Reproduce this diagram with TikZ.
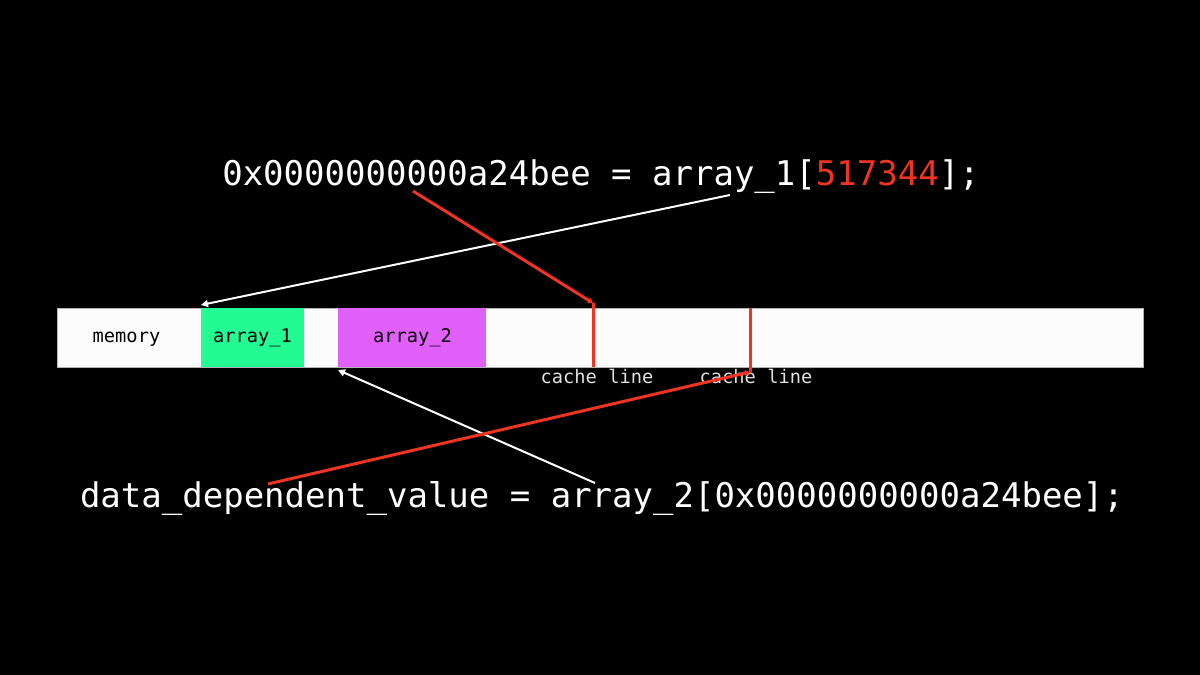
\documentclass[tikz,border=0pt]{standalone}
\usepackage{fontspec}
\setmonofont{DejaVu Sans Mono}
\usetikzlibrary{arrows.meta,positioning,calc}

\definecolor{arraygreen}{RGB}{34,250,146}
\definecolor{arraypink}{RGB}{226,96,250}
\definecolor{codered}{RGB}{240,52,34}
\definecolor{bargray}{RGB}{252,252,252}

\tikzset{
    code/.style={text=white, font=\ttfamily\fontsize{34}{40}\selectfont, inner sep=0pt, anchor=base},
    label/.style={font=\ttfamily\fontsize{18.7}{22}\selectfont, inner sep=0pt, anchor=base},
    block/.style={minimum height=59pt, inner sep=0pt, outer sep=0pt},
    wire/.style={white, line width=2pt, -{Triangle[length=7pt,width=7pt]}},
    redwire/.style={codered, line width=3pt, -{Triangle[length=5pt,width=6pt]}},
}

\begin{document}
\begin{tikzpicture}[x=1pt,y=-1pt]
    % black page
    \fill[black] (0,0) rectangle (1200,675);
    \useasboundingbox (0,0) rectangle (1200,675);

    % memory bar
    \node[block, draw=gray!60, line width=0.8pt, fill=bargray, minimum width=1086pt] (mem) at (600,337.5) {};
    \node[block, fill=arraygreen, minimum width=103pt] (arr1) at (252.5,337.5) {};
    \node[block, fill=arraypink, minimum width=148pt] (arr2) at (412,337.5) {};
    \node[label] (memtxt) at (126.5,342) {memory};
    \node[label] (arr1txt) at (252.5,342) {array\_1};
    \node[label] (arr2txt) at (412.5,342) {array\_2};

    % cache lines
    \coordinate (cl1top) at (593,303);
    \coordinate (cl1bot) at (593,367);
    \coordinate (cl2top) at (750,308);
    \coordinate (cl2bot) at (750,372);
    \draw[codered, line width=3pt] (cl1top) -- (cl1bot);
    \draw[codered, line width=3pt] (cl2bot) -- (cl2top);
    \node[label, text=white!88!black] (cl1txt) at (597,383) {cache line};
    \node[label, text=white!88!black] (cl2txt) at (756,383) {cache line};

    % code lines
    \node[code] (top) at (601,185) {0x0000000000a24bee = array\_1[\textcolor{codered}{517344}];};
    \node[code] (bot) at (602,507) {data\_dependent\_value = array\_2[0x0000000000a24bee];};

    % connectors
    \coordinate (a1src) at (730,195);
    \coordinate (a1dst) at (201,305);
    \coordinate (adrsrc) at (413,191);
    \coordinate (a2src) at (595,483);
    \coordinate (a2dst) at (338,370);
    \coordinate (valsrc) at (268,484);
    \draw[wire] (a1src) -- (a1dst);
    \draw[redwire] (adrsrc) -- (cl1top);
    \draw[wire] (a2src) -- (a2dst);
    \draw[redwire] (valsrc) -- (cl2bot);
\end{tikzpicture}
\end{document}
